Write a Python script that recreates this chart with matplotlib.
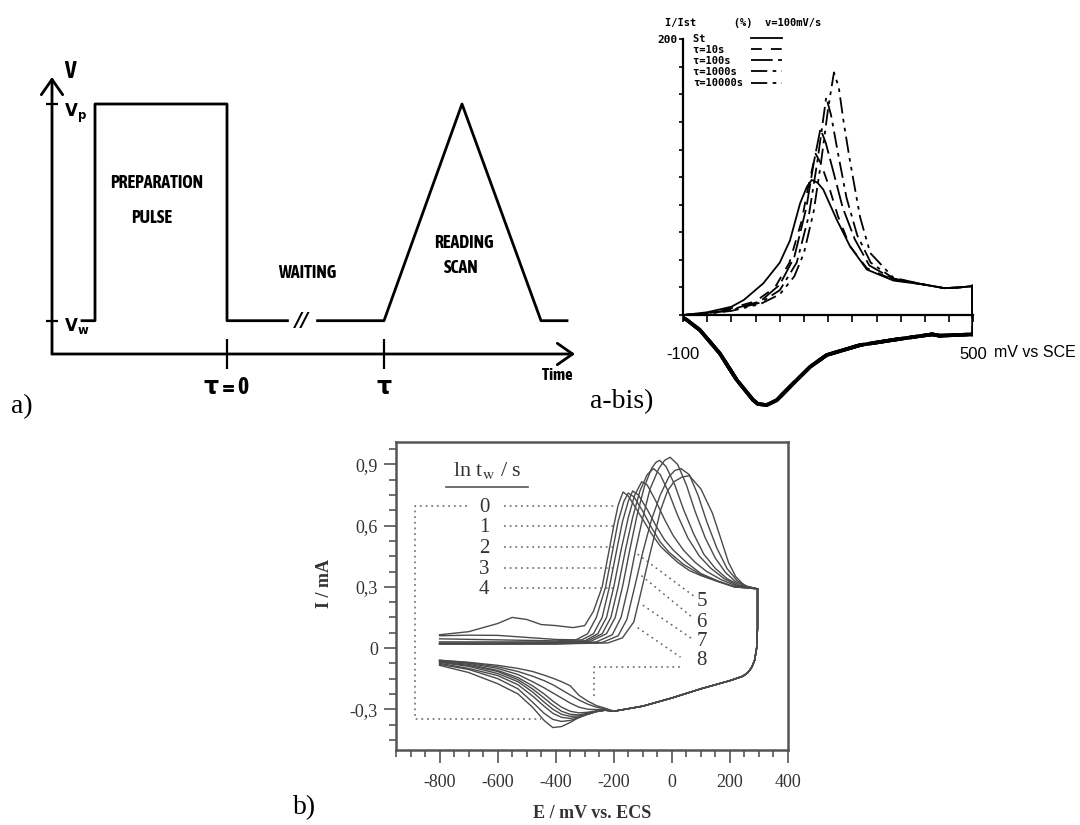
import matplotlib
matplotlib.use("Agg")
import matplotlib.pyplot as plt
import numpy as np
from matplotlib import font_manager
from matplotlib.ticker import MultipleLocator, FuncFormatter

plt.rcParams['axes.unicode_minus'] = False
plt.rcParams['mathtext.fontset'] = 'stix'

# ---------------- data ----------------
# a) pulse programme, schematic units (V_w = 0, V_p = 1)
wave_t = [3.0, 4.3, 4.3, 17.5, 17.5, 24.4, np.nan, 25.6, 33.2, 41.0, 48.9, 51.5]
wave_v = [0, 0, 1, 1, 0, 0, np.nan, 0, 0, 1, 0, 0]
tau_ticks = [17.5, 33.2]
tau_labels = ["τ = 0", "τ"]
level_ticks = [0, 1]

# a-bis) I/Ist (%) vs mV, v = 100 mV/s
abis_labels = ["St", "τ=10s", "τ=100s", "τ=1000s", "τ=10000s"]
abis_styles = ["-", (0, (6, 5)), (0, (12, 3)), (0, (9, 3, 2, 3)), (0, (9, 3, 2, 3, 2, 3))]
abis_x_st = [-100, -50, 0, 26, 66, 100, 121, 142, 156, 166, 178, 190, 218, 245, 280, 335, 400, 440, 470, 500]
abis_y_st = [0, 2, 6, 11, 23, 38, 54, 81, 93, 98, 96, 91, 69, 50, 33, 25, 22, 19.5, 20, 21]
abis_x_10 = [-100, -50, 0, 50, 90, 120, 145, 160, 174, 185, 200, 220, 245, 280, 335, 400, 440, 470, 500]
abis_y_10 = [0, 1.5, 5, 10, 20, 38, 68, 95, 117, 110, 95, 72, 50, 34, 25.5, 22, 19.5, 20, 21]
abis_x_100 = [-100, -50, 0, 60, 100, 130, 155, 170, 184, 195, 210, 230, 255, 285, 335, 400, 440, 470, 500]
abis_y_100 = [0, 1.2, 4, 10, 22, 42, 78, 110, 135, 125, 105, 78, 55, 36, 26, 22, 19.5, 20, 21]
abis_x_1000 = [-100, -50, 0, 60, 100, 135, 160, 178, 196, 206, 220, 238, 260, 288, 335, 400, 440, 470, 500]
abis_y_1000 = [0, 1, 3.5, 9, 18, 38, 72, 112, 158, 145, 118, 85, 58, 38, 26.5, 22, 19.5, 20, 21]
abis_x_10000 = [-100, -50, 0, 60, 100, 130, 150, 170, 185, 200, 212, 222, 232, 245, 266, 287, 335, 400, 440, 470, 500]
abis_y_10000 = [0, 1, 3, 8, 15, 28, 45, 75, 110, 150, 176, 165, 140, 112, 71, 45, 27, 22, 19.5, 20, 21]
# return (cathodic) sweep, all five nearly on top of each other
abis_cath_x = [500, 500, 430, 415, 335, 266, 197, 163, 128, 94, 73, 55, 45, 11, -24, -65, -92, -100]
abis_cath_y = [21, -14, -15, -14, -18, -21.8, -29, -37.5, -49.6, -61.7, -65.3, -64.5, -61.7, -47, -27.8, -10.9, -3.6, -2]

# b) I / mA vs E / mV, waiting times ln tw = 0..8
b_labels = ["0", "1", "2", "3", "4", "5", "6", "7", "8"]
b_an_x = [
    [-800, -700, -600, -550, -500, -450, -400, -340, -300, -270, -240, -220, -200, -185, -168, -150, -130, -100, -70, -40, -15, 20, 60, 100, 160, 215, 295],
    [-800, -700, -600, -500, -400, -330, -290, -260, -228, -205, -185, -165, -150, -130, -100, -70, -40, -10, 40, 100, 160, 215, 295],
    [-800, -600, -400, -310, -270, -240, -215, -190, -170, -150, -135, -115, -85, -55, -25, 5, 50, 100, 160, 215, 295],
    [-800, -600, -400, -300, -255, -225, -200, -175, -150, -128, -104, -85, -55, -25, 5, 40, 80, 120, 170, 220, 295],
    [-800, -600, -400, -290, -240, -210, -185, -160, -135, -110, -85, -63, -40, -10, 20, 55, 95, 135, 180, 225, 295],
    [-800, -600, -400, -280, -225, -195, -170, -145, -120, -95, -70, -55, -42, -20, 10, 40, 75, 110, 150, 190, 235, 295],
    [-800, -600, -400, -260, -205, -175, -150, -125, -100, -75, -45, -25, -6, 20, 50, 80, 115, 150, 185, 220, 255, 295],
    [-800, -600, -400, -240, -185, -155, -128, -100, -70, -40, -10, 10, 31, 60, 90, 120, 155, 190, 225, 260, 295],
    [-800, -600, -400, -220, -170, -131, -107, -79, -55, -38, -15, 7, 35, 60, 100, 140, 170, 195, 220, 250, 295],
]
b_an_y = [
    [0.065, 0.08, 0.12, 0.15, 0.14, 0.115, 0.11, 0.10, 0.11, 0.18, 0.3, 0.45, 0.6, 0.7, 0.765, 0.745, 0.7, 0.63, 0.56, 0.5, 0.465, 0.42, 0.38, 0.355, 0.325, 0.30, 0.29],
    [0.06, 0.063, 0.062, 0.052, 0.042, 0.04, 0.07, 0.15, 0.3, 0.47, 0.62, 0.72, 0.76, 0.74, 0.67, 0.59, 0.52, 0.47, 0.41, 0.36, 0.326, 0.30, 0.29],
    [0.045, 0.04, 0.035, 0.04, 0.07, 0.15, 0.3, 0.48, 0.62, 0.72, 0.77, 0.75, 0.68, 0.6, 0.53, 0.48, 0.42, 0.365, 0.328, 0.30, 0.29],
    [0.03, 0.03, 0.03, 0.035, 0.07, 0.15, 0.3, 0.48, 0.64, 0.75, 0.815, 0.8, 0.72, 0.63, 0.55, 0.48, 0.42, 0.375, 0.335, 0.305, 0.29],
    [0.025, 0.025, 0.028, 0.035, 0.07, 0.15, 0.3, 0.48, 0.64, 0.77, 0.85, 0.88, 0.85, 0.76, 0.65, 0.54, 0.45, 0.39, 0.34, 0.307, 0.29],
    [0.022, 0.022, 0.025, 0.033, 0.07, 0.15, 0.3, 0.48, 0.65, 0.79, 0.88, 0.91, 0.92, 0.89, 0.8, 0.68, 0.56, 0.46, 0.39, 0.34, 0.307, 0.29],
    [0.02, 0.02, 0.022, 0.03, 0.065, 0.15, 0.3, 0.48, 0.64, 0.78, 0.88, 0.92, 0.935, 0.9, 0.8, 0.67, 0.54, 0.44, 0.37, 0.325, 0.302, 0.29],
    [0.02, 0.02, 0.02, 0.027, 0.06, 0.14, 0.3, 0.47, 0.63, 0.75, 0.84, 0.87, 0.88, 0.85, 0.75, 0.62, 0.49, 0.39, 0.33, 0.302, 0.29],
    [0.02, 0.02, 0.02, 0.025, 0.05, 0.128, 0.27, 0.44, 0.58, 0.68, 0.77, 0.815, 0.838, 0.845, 0.78, 0.66, 0.53, 0.42, 0.35, 0.305, 0.29],
]
# reverse sweep: shared part from 295 mV down to -200 mV, then one tail per curve
b_cath_head_x = [295, 295, 292, 285, 275, 262, 245, 200, 100, 0, -100, -200]
b_cath_head_y = [0.29, 0.1, 0.0, -0.06, -0.095, -0.12, -0.138, -0.16, -0.2, -0.245, -0.285, -0.31]
b_cath_tail_x = [-230, -260, -290, -320, -350, -380, -410, -440, -480, -530, -600, -700, -800]
b_cath_tail_y = [
    [-0.305, -0.31, -0.318, -0.34, -0.365, -0.385, -0.39, -0.355, -0.29, -0.225, -0.175, -0.12, -0.085],
    [-0.305, -0.312, -0.325, -0.342, -0.355, -0.36, -0.35, -0.32, -0.265, -0.2, -0.15, -0.105, -0.08],
    [-0.305, -0.312, -0.325, -0.338, -0.345, -0.34, -0.32, -0.285, -0.235, -0.18, -0.135, -0.1, -0.075],
    [-0.305, -0.312, -0.325, -0.333, -0.335, -0.325, -0.3, -0.265, -0.215, -0.165, -0.125, -0.09, -0.07],
    [-0.305, -0.31, -0.32, -0.328, -0.325, -0.31, -0.28, -0.245, -0.2, -0.155, -0.115, -0.085, -0.068],
    [-0.303, -0.308, -0.315, -0.318, -0.31, -0.29, -0.26, -0.225, -0.185, -0.145, -0.11, -0.08, -0.065],
    [-0.3, -0.302, -0.3, -0.29, -0.27, -0.245, -0.22, -0.195, -0.165, -0.13, -0.1, -0.075, -0.062],
    [-0.298, -0.29, -0.275, -0.255, -0.23, -0.205, -0.18, -0.16, -0.138, -0.115, -0.092, -0.072, -0.06],
    [-0.295, -0.282, -0.26, -0.232, -0.185, -0.165, -0.148, -0.133, -0.115, -0.1, -0.085, -0.07, -0.06],
]
# label positions (mV, mA) for the ln tw tags
b_tag_left_y = [0.687, 0.59, 0.487, 0.385, 0.285]
b_tag_right_y = [0.23, 0.126, 0.031, -0.062]

# ---------------- fonts ----------------
def is_bold(w):
    return w in ('bold', 'heavy', 'black', 'extra bold', 'semibold', 'demibold') or \
        (isinstance(w, int) and w >= 600)

cands = [f for f in font_manager.fontManager.ttflist if 'Narrow' in f.name or 'Condensed' in f.name]
bold_cands = [f.name for f in cands if is_bold(f.weight)]
if bold_cands:
    narrow_name = sorted(bold_cands)[0]
elif cands:
    narrow_name = sorted(f.name for f in cands)[0]
else:
    narrow_name = None
if narrow_name:
    sketch_font = dict(family=[narrow_name, 'DejaVu Sans'], fontweight='bold')
    k = 1.0
else:
    sketch_font = dict(family=['DejaVu Sans'], fontweight='bold')
    k = 0.82
serif = 'Liberation Serif'
mono = 'DejaVu Sans Mono'

fig = plt.figure(figsize=(10.8, 8.25), dpi=100)

# ================= a) =================
ax = fig.add_axes([52 / 1080, 1 - 354 / 825, 523 / 1080, 277 / 825])
ax.set_xlim(0, 52.3)
ax.set_ylim(-0.1537, 1.1246)
for s in ax.spines.values():
    s.set_visible(False)
ax.plot(wave_t, wave_v, color='black', lw=2)
arrow = dict(arrowstyle='->,head_length=0.5,head_width=0.35', lw=2,
             color='black', mutation_scale=22, shrinkA=0, shrinkB=0)
ax.annotate('', xy=(0, 1), xytext=(0, 0), xycoords='axes fraction', arrowprops=arrow)
ax.annotate('', xy=(1, 0), xytext=(0, 0), xycoords='axes fraction', arrowprops=arrow)
ax.set_xticks(tau_ticks)
ax.set_xticklabels(tau_labels, fontsize=17 * k, **sketch_font)
ax.tick_params(axis='x', direction='inout', length=22, width=1.6, pad=5)
ax.set_yticks(level_ticks)
ax.set_yticklabels([])
ax.tick_params(axis='y', direction='inout', length=9, width=1.6)

ax.text(1.8, 1.15, "V", fontsize=17 * k, ha='center', va='center', clip_on=False, **sketch_font)
ax.text(1.2, 0.955, r"$\mathbf{V_p}$", fontsize=12, ha='left', va='center',
        math_fontfamily='dejavusans')
ax.text(1.2, -0.025, r"$\mathbf{V_w}$", fontsize=12, ha='left', va='center',
        math_fontfamily='dejavusans')
ax.text(10.5, 0.635, "PREPARATION", fontsize=12.8 * k, ha='center', va='center', **sketch_font)
ax.text(10.0, 0.474, "PULSE", fontsize=12.8 * k, ha='center', va='center', **sketch_font)
ax.text(25.5, 0.222, "WAITING", fontsize=12.8 * k, ha='center', va='center', **sketch_font)
ax.text(41.2, 0.36, "READING", fontsize=12.8 * k, ha='center', va='center', **sketch_font)
ax.text(40.9, 0.242, "SCAN", fontsize=12.8 * k, ha='center', va='center', **sketch_font)
ax.text(25.0, 0.0, "//", fontsize=14, ha='center', va='center', fontweight='bold',
        style='italic', backgroundcolor='white')
ax.text(50.5, -0.25, "Time", fontsize=12 * k, ha='center', va='center', clip_on=False, **sketch_font)

# ================= a-bis) =================
ax2 = fig.add_axes([683 / 1080, 1 - 414.3 / 825, 290.3 / 1080, 375 / 825])
ax2.set_xlim(-100, 500)
ax2.set_ylim(-72, 200)
ax2.patch.set_alpha(0)
an_x = [abis_x_st, abis_x_10, abis_x_100, abis_x_1000, abis_x_10000]
an_y = [abis_y_st, abis_y_10, abis_y_100, abis_y_1000, abis_y_10000]
handles = []
for xs, ys, ls in zip(an_x, an_y, abis_styles):
    h, = ax2.plot(xs, ys, color='black', lw=1.3, ls=ls)
    handles.append(h)
    ax2.plot(abis_cath_x, abis_cath_y, color='black', lw=2.6, ls=ls)
ax2.spines['top'].set_visible(False)
ax2.spines['right'].set_visible(False)
ax2.spines['bottom'].set_position(('data', 0))
ax2.spines['left'].set_bounds(0, 200)
for s in ('left', 'bottom'):
    ax2.spines[s].set_linewidth(1.6)
ax2.set_yticks(np.arange(0, 201, 20))
ax2.set_yticklabels([''] * 10 + ['200'], fontsize=8, family=mono, fontweight='bold')
ax2.tick_params(axis='y', direction='out', length=3, width=1.2, pad=1)
ax2.set_xticks(np.arange(-100, 501, 50))
ax2.set_xticklabels(['-100'] + [''] * 11 + ['500'], fontsize=12, family='Liberation Sans')
ax2.tick_params(axis='x', direction='out', length=5, width=1.2, pad=18)
ax2.text(542, -27, "mV vs SCE", fontsize=11.5, family='Liberation Sans',
         ha='left', va='center', clip_on=False)
fig.text(665 / 1080, 1 - 23 / 825, "I/Ist      (%)  v=100mV/s", fontsize=7.5,
         family=mono, fontweight='bold', va='center', ha='left')
ax2.legend(handles, [f"{s:<8}" for s in abis_labels], loc='upper left',
           bbox_to_anchor=(693 / 1080, 1 - 34 / 825), bbox_transform=fig.transFigure,
           frameon=False, borderpad=0, borderaxespad=0, markerfirst=False,
           handlelength=2.9, handletextpad=0.8, labelspacing=0.1,
           prop=dict(family=mono, weight='bold', size=7.5))

# ================= b) =================
gray = '#4a4a4a'
ax3 = fig.add_axes([396 / 1080, 1 - 750 / 825, 392 / 1080, 308 / 825])
ax3.set_xlim(-950, 400)
ax3.set_ylim(-0.5, 1.01)
for i in range(len(b_labels)):
    ax3.plot(b_an_x[i], b_an_y[i], color=gray, lw=1.0)
    ax3.plot(b_cath_head_x + b_cath_tail_x, b_cath_head_y + b_cath_tail_y[i], color=gray, lw=1.0)
for s in ax3.spines.values():
    s.set_color('#555555')
    s.set_linewidth(1.8)
ax3.xaxis.set_minor_locator(MultipleLocator(50))
ax3.yaxis.set_major_locator(MultipleLocator(0.3))
ax3.yaxis.set_minor_locator(MultipleLocator(0.075))
ax3.set_xticks(np.arange(-800, 401, 200))
ax3.yaxis.set_major_formatter(FuncFormatter(
    lambda v, p: '0' if abs(v) < 1e-9 else f"{v:.1f}".replace('.', ',')))
ax3.tick_params(which='both', direction='out', color='#555555', width=1.2,
                labelsize=13, labelcolor='#333333')
ax3.tick_params(which='major', length=9)
ax3.tick_params(which='minor', length=5)
ax3.tick_params(axis='x', pad=8)
ax3.tick_params(axis='y', pad=4)
for lab in ax3.get_xticklabels() + ax3.get_yticklabels():
    lab.set_family(serif)
ax3.set_ylabel("I / mA", fontsize=13, family=serif, fontweight='bold', color='#333333')
ax3.set_xlabel("E / mV vs. ECS", fontsize=13, family=serif, fontweight='bold', color='#333333')
ax3.yaxis.set_label_coords(-0.161, 0.54)
ax3.xaxis.set_label_coords(0.5, -0.178)

dot = dict(color='#666666', lw=1.1, ls=(0, (1.2, 2.5)))
ax3.text(-636, 0.87, r"ln t$_{\mathrm{w}}$ / s", fontsize=16, family=serif,
         ha='center', va='center', color='#333333')
ax3.plot([-779, -494], [0.787, 0.787], color='#555555', lw=1.2)
for lab, y in zip(b_labels[:5], b_tag_left_y):
    ax3.text(-647, y, lab, fontsize=15, family=serif, ha='center', va='center', color='#333333')
    ax3.plot([-578, -190], [y + 0.008, y + 0.008], **dot)
ax3.plot([-704, -886, -886, -452], [0.695, 0.695, -0.349, -0.349], **dot)
for lab, y in zip(b_labels[5:], b_tag_right_y):
    ax3.text(85, y, lab, fontsize=15, family=serif, ha='left', va='center', color='#333333')
ax3.plot([-118, 80], [0.46, 0.25], **dot)
ax3.plot([-105, 75], [0.355, 0.145], **dot)
ax3.plot([-100, 70], [0.21, 0.045], **dot)
ax3.plot([-118, 30], [0.10, -0.045], **dot)
ax3.plot([-268, -268, 37], [-0.235, -0.095, -0.095], **dot)

# panel tags
fig.text(22 / 1080, 1 - 407 / 825, "a)", fontsize=20, family=serif, ha='center', va='center')
fig.text(622 / 1080, 1 - 402 / 825, "a-bis)", fontsize=20, family=serif, ha='center', va='center')
fig.text(305 / 1080, 1 - 808 / 825, "b)", fontsize=20, family=serif, ha='center', va='center')

fig.savefig("out.png", dpi=100)
